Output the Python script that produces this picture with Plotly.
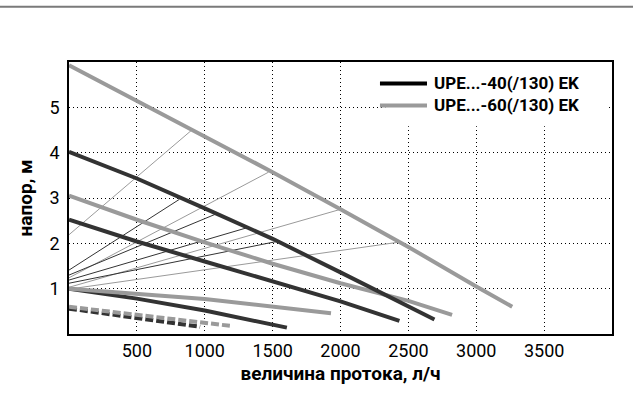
import plotly.graph_objects as go

# Axis ticks
x_ticks = [500, 1000, 1500, 2000, 2500, 3000, 3500]
y_ticks = [1, 2, 3, 4, 5]

# Pump curves UPE...-60(/130) EK (flow l/h, head m)
upe60_hi_q = [0, 500, 1000, 1500, 2000, 2500, 3000, 3265]
upe60_hi_h = [5.93, 5.15, 4.37, 3.57, 2.75, 1.92, 1.05, 0.60]
upe60_mid_q = [0, 500, 1000, 1500, 2000, 2500, 2822]
upe60_mid_h = [3.05, 2.52, 2.02, 1.55, 1.12, 0.73, 0.42]
upe60_lo_q = [0, 500, 1000, 1930]
upe60_lo_h = [1.0, 0.88, 0.77, 0.46]

# Pump curves UPE...-40(/130) EK
upe40_hi_q = [0, 500, 1000, 1500, 2000, 2500, 2692]
upe40_hi_h = [4.02, 3.43, 2.77, 2.10, 1.36, 0.60, 0.32]
upe40_mid_q = [0, 500, 1000, 1500, 2000, 2434]
upe40_mid_h = [2.52, 2.04, 1.60, 1.16, 0.72, 0.29]
upe40_lo_q = [0, 500, 1000, 1605]
upe40_lo_h = [1.0, 0.78, 0.52, 0.14]

# Minimum-speed curves (dashed)
min60_q = [0, 1187]
min60_h = [0.60, 0.18]
min40_q = [0, 966]
min40_h = [0.56, 0.16]

# System characteristics (thin lines): start and end points
sys60_q = [[0, 905], [0, 1470], [0, 2000], [0, 2440]]
sys60_h = [[2.19, 4.50], [1.24, 3.57], [1.03, 2.75], [0.99, 2.03]]
sys40_q = [[0, 813], [0, 1077], [0, 1318], [0, 1545]]
sys40_h = [[1.41, 2.97], [1.30, 2.64], [1.19, 2.35], [1.12, 2.05]]

legend_labels = ["UPE...-40(/130) EK", "UPE...-60(/130) EK"]
legend_colors = ["black", "#9a9a9a"]

DARK = "#333333"
GRAY = "#9a9a9a"
FONT = "Roboto, Lato, sans-serif"

fig = go.Figure()

for q, h in zip(sys60_q, sys60_h):
    fig.add_trace(go.Scatter(x=q, y=h, mode="lines",
                             line=dict(color=GRAY, width=1), showlegend=False))
for q, h in zip(sys40_q, sys40_h):
    fig.add_trace(go.Scatter(x=q, y=h, mode="lines",
                             line=dict(color=DARK, width=1), showlegend=False))

for q, h, c in [
    (upe40_lo_q, upe40_lo_h, DARK),
    (upe60_lo_q, upe60_lo_h, GRAY),
    (upe40_mid_q, upe40_mid_h, DARK),
    (upe60_mid_q, upe60_mid_h, GRAY),
    (upe40_hi_q, upe40_hi_h, DARK),
    (upe60_hi_q, upe60_hi_h, GRAY),
]:
    fig.add_trace(go.Scatter(x=q, y=h, mode="lines",
                             line=dict(color=c, width=4), showlegend=False))

fig.add_trace(go.Scatter(x=min40_q, y=min40_h, mode="lines",
                         line=dict(color=DARK, width=4, dash="8px,3px"), showlegend=False))
fig.add_trace(go.Scatter(x=min60_q, y=min60_h, mode="lines",
                         line=dict(color=GRAY, width=4, dash="8px,3px"), showlegend=False))

# page rule above the chart
fig.add_shape(type="line", xref="paper", yref="paper",
              x0=-0.13, x1=1.05, y0=1.203, y1=1.203,
              line=dict(color="#7a7a7a", width=2))

# white panel behind the legend
fig.add_shape(type="rect", xref="x", yref="y", x0=2330, x1=3975, y0=4.58, y1=6.0,
              fillcolor="white", line=dict(width=0), layer="between")

# legend: two line samples and a two-line label block
for yy, col in zip([0.9210, 0.8401], legend_colors):
    fig.add_shape(type="line", xref="paper", yref="paper",
                  x0=0.5727, x1=0.6593, y0=yy, y1=yy,
                  line=dict(color=col, width=4))
fig.add_annotation(xref="paper", yref="paper", x=0.6685, y=0.8806,
                   text="<br>".join("<b>" + lab + "</b>" for lab in legend_labels),
                   showarrow=False, xanchor="left", yanchor="middle", align="left",
                   font=dict(family=FONT, size=17, color="black"))

grid = dict(showgrid=True, gridcolor="black", gridwidth=1, griddash="1px,3px",
            showline=True, linecolor="black", linewidth=1.5, mirror=True,
            zeroline=False, ticks="", tickfont=dict(family=FONT, size=18, color="black"))

fig.update_layout(
    width=633, height=396,
    margin=dict(l=69, r=21, t=62, b=62),
    paper_bgcolor="white", plot_bgcolor="white",
    showlegend=False,
    xaxis=dict(range=[0, 4000], tickvals=x_ticks, ticktext=[str(v) for v in x_ticks],
               title=dict(text="<b>величина протока, л/ч</b>", standoff=6,
                          font=dict(family=FONT, size=19, color="black")),
               **grid),
    yaxis=dict(range=[0, 6], tickvals=y_ticks, ticktext=[str(v) for v in y_ticks],
               ticklabelstandoff=4,
               title=dict(text="<b>напор, м</b>", standoff=12,
                          font=dict(family=FONT, size=19, color="black")),
               **grid),
)

fig.write_html("out.html")
